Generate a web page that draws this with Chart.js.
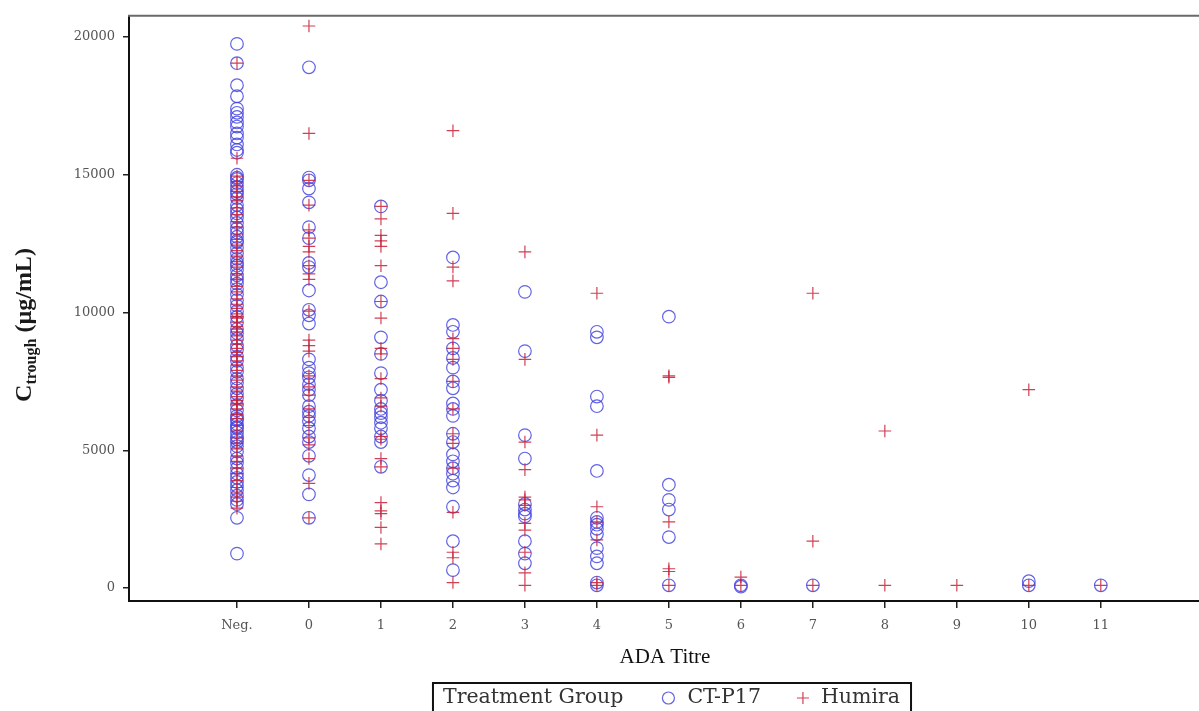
<!DOCTYPE html>
<html>
<head>
<meta charset="utf-8">
<script src="https://cdn.jsdelivr.net/npm/chart.js@4.4.1/dist/chart.umd.min.js"></script>
<style>
  body { margin: 0; background: #fff; }
  canvas { display: block; }
</style>
</head>
<body>
<canvas id="chart-0" width="1199" height="711"></canvas>
<script>
// ADA titre categories (Neg. plotted at -1)
var titreX = [-1, 0, 1, 2, 3, 4, 5, 6, 7, 8, 9, 10, 11];
var titreLabels = ["Neg.", "0", "1", "2", "3", "4", "5", "6", "7", "8", "9", "10", "11"];
var yTicks = [0, 5000, 10000, 15000, 20000];

/* CT-P17 Ctrough values per titre */
var ctNeg = [19750, 19050, 18250, 17850, 17400, 17250, 17100, 16900, 16750, 16500, 16350, 16100, 15900, 15800,
  15000, 14900, 14850, 14700, 14550, 14400, 14300, 14150, 13900, 13750, 13600, 13450, 13250, 13050, 12900, 12750,
  12600, 12550, 12350, 12150, 11950, 11800, 11700, 11550, 11350, 11200, 11050, 10850, 10650, 10450, 10250, 10050,
  9850, 9650, 9400, 9250, 9050, 8800, 8650, 8400, 8250, 8000, 7850, 7600, 7450, 7250, 7050, 6900, 6650, 6450,
  6250, 6150, 6100, 5950, 5850, 5800, 5650, 5500, 5400, 5300, 5150, 4950, 4700, 4550, 4350, 4150, 4000, 3850,
  3700, 3550, 3350, 3200, 3050, 2550, 1250];
var ct0 = [18900, 14900, 14800, 14500, 14000, 13100, 12700, 11800, 11650, 10800, 10100, 9900, 9600, 8300, 8000,
  7800, 7650, 7400, 7200, 7000, 6600, 6400, 6250, 6050, 5800, 5500, 5300, 4800, 4100, 3400, 2550];
var ct1 = [13850, 11100, 10400, 9100, 8500, 7800, 7200, 6800, 6500, 6350, 6200, 6000, 5800, 5500, 5300, 4400];
var ct2 = [12000, 9550, 9300, 8700, 8350, 8000, 7500, 7250, 6700, 6500, 6250, 5600, 5300, 4850, 4600, 4350, 4150,
  3900, 3650, 2950, 1700, 650];
var ct3 = [10750, 8600, 5550, 4700, 3050, 2850, 2700, 2600, 1700, 1250, 900];
var ct4 = [9300, 9100, 6950, 6600, 4250, 2550, 2400, 2300, 2150, 1950, 1450, 1150, 900, 200, 100];
var ct5 = [9850, 3750, 3200, 2850, 1850, 100];
var ct6 = [100, 50];
var ct7 = [100];
var ct8 = [];
var ct9 = [];
var ct10 = [250, 100];
var ct11 = [100];

/* Humira Ctrough values per titre */
var huNeg = [19050, 15600, 14950, 14750, 14600, 14400, 14200, 14050, 13800, 13550, 13300, 13100, 12850, 12650,
  12450, 12250, 12050, 11850, 11650, 11400, 11200, 10950, 10750, 10500, 10300, 10150, 9950, 9850, 9800, 9650,
  9500, 9400, 9300, 9150, 9000, 8850, 8700, 8550, 8400, 8250, 8100, 7900, 7700, 7550, 7300, 7150, 6950, 6800,
  6700, 6650, 6500, 6300, 6150, 5900, 5700, 5450, 5250, 5050, 4800, 4600, 4350, 4150, 3900, 3650, 3450, 3300,
  3150, 2900];
var hu0 = [20400, 16500, 14800, 13900, 13000, 12700, 12400, 12200, 11700, 11400, 11200, 10050, 9000, 8800, 8600,
  7700, 7300, 7000, 6500, 6200, 5900, 5450, 5200, 4700, 3800, 2550];
var hu1 = [13850, 13400, 12800, 12600, 12400, 11700, 10400, 9800, 8700, 8500, 7600, 6900, 6600, 5500, 5400, 4700,
  4400, 3100, 2800, 2700, 2200, 1600];
var hu2 = [16600, 13600, 11650, 11150, 9050, 8700, 8300, 7500, 6500, 5600, 5250, 4350, 2750, 1300, 1100, 200];
var hu3 = [12200, 8300, 5300, 4300, 3300, 3200, 3000, 2350, 2100, 1300, 550, 100];
var hu4 = [10700, 5550, 2950, 2400, 1750, 200, 100];
var hu5 = [7700, 7650, 2400, 700, 600, 100];
var hu6 = [400, 100];
var hu7 = [10700, 1700, 100];
var hu8 = [5700, 100];
var hu9 = [100];
var hu10 = [7200, 100];
var hu11 = [100];

var ctCols = [ctNeg, ct0, ct1, ct2, ct3, ct4, ct5, ct6, ct7, ct8, ct9, ct10, ct11];
var huCols = [huNeg, hu0, hu1, hu2, hu3, hu4, hu5, hu6, hu7, hu8, hu9, hu10, hu11];

function toPoints(cols) {
    var pts = [];
    for (var i = 0; i < cols.length; i++) {
        for (var j = 0; j < cols[i].length; j++) {
            pts.push({ x: titreX[i], y: cols[i][j] });
        }
    }
    return pts;
}

var blue = "rgba(70,70,225,0.85)";
var red = "rgba(200,30,55,0.85)";
var tickFont = { family: "'DejaVu Serif'", size: 13 };

// draws top frame line, axis titles and the boxed legend
var extras = {
    id: "extras",
    afterDraw: function (chart) {
        var ctx = chart.ctx;
        var area = chart.chartArea;
        ctx.save();

        ctx.strokeStyle = "#6a6a6a";
        ctx.lineWidth = 2;
        ctx.beginPath();
        ctx.moveTo(area.left - 1, area.top);
        ctx.lineTo(chart.width, area.top);
        ctx.stroke();
        // bottom axis runs on to the edge
        ctx.strokeStyle = "#111";
        ctx.beginPath();
        ctx.moveTo(area.right - 1, area.bottom);
        ctx.lineTo(chart.width, area.bottom);
        ctx.stroke();

        // x title
        ctx.fillStyle = "#111";
        ctx.font = "21px 'Liberation Serif'";
        ctx.textAlign = "center";
        ctx.textBaseline = "middle";
        ctx.fillText("ADA Titre", 665, 657);

        // y title with subscript
        var big = "bold 24px 'Liberation Serif'";
        var small = "bold 16px 'Liberation Serif'";
        ctx.font = big;
        var wC = ctx.measureText("C").width;
        var wU = ctx.measureText(" (\u00b5g/mL)").width;
        ctx.font = small;
        var wT = ctx.measureText("trough").width;
        var total = wC + wT + wU;
        ctx.translate(24, 325);
        ctx.rotate(-Math.PI / 2);
        ctx.textAlign = "left";
        ctx.textBaseline = "alphabetic";
        ctx.fillStyle = "#1a1a1a";
        var sx = -total / 2;
        ctx.font = big;
        ctx.fillText("C", sx, 7);
        ctx.font = small;
        ctx.fillText("trough", sx + wC, 12);
        ctx.font = big;
        ctx.fillText(" (\u00b5g/mL)", sx + wC + wT, 7);
        ctx.setTransform(1, 0, 0, 1, 0, 0);

        // legend
        ctx.font = "20.5px 'DejaVu Serif'";
        ctx.textAlign = "left";
        ctx.textBaseline = "middle";
        var t1 = "Treatment Group", t2 = "CT-P17", t3 = "Humira";
        var w1 = ctx.measureText(t1).width;
        var w2 = ctx.measureText(t2).width;
        var w3 = ctx.measureText(t3).width;
        var boxW = 10 + w1 + 45 + 19 + w2 + 42 + 18 + w3 + 11;
        var bx = 672 - boxW / 2;
        var by = 683;
        var cy = 698;
        ctx.strokeStyle = "#111";
        ctx.lineWidth = 2;
        ctx.strokeRect(bx, by, boxW, 40);
        ctx.fillStyle = "#333";
        var x = bx + 10;
        ctx.fillText(t1, x, cy);
        x += w1 + 45;
        ctx.strokeStyle = blue;
        ctx.lineWidth = 1.2;
        ctx.beginPath();
        ctx.arc(x, cy, 6, 0, Math.PI * 2);
        ctx.stroke();
        x += 19;
        ctx.fillText(t2, x, cy);
        x += w2 + 42;
        ctx.strokeStyle = red;
        ctx.beginPath();
        ctx.moveTo(x - 6, cy); ctx.lineTo(x + 6, cy);
        ctx.moveTo(x, cy - 6); ctx.lineTo(x, cy + 6);
        ctx.stroke();
        x += 18;
        ctx.fillText(t3, x, cy);

        ctx.restore();
    }
};

var ctx0 = document.getElementById("chart-0");

var myChart = new Chart(ctx0, {
    type: "scatter",
    data: {
        datasets: [{
            label: "CT-P17",
            data: toPoints(ctCols),
            pointStyle: "circle",
            pointRadius: 6.3,
            pointHoverRadius: 6.3,
            borderColor: blue,
            backgroundColor: "rgba(0,0,0,0)",
            borderWidth: 1.2,
            order: 1
        }, {
            label: "Humira",
            data: toPoints(huCols),
            pointStyle: "cross",
            pointRadius: 6.3,
            pointHoverRadius: 6.3,
            borderColor: red,
            backgroundColor: red,
            borderWidth: 1.2,
            order: 0
        }]
    },
    options: {
        responsive: false,
        animation: false,
        layout: { padding: { left: 0, top: 12, right: 0, bottom: 0 } },
        plugins: {
            legend: { display: false },
            tooltip: { enabled: false }
        },
        scales: {
            x: {
                type: "linear",
                min: -2.5,
                max: 12.26,
                afterBuildTicks: function (scale) {
                    scale.ticks = titreX.map(function (v) { return { value: v }; });
                },
                afterFit: function (scale) { scale.height = 110; },
                ticks: {
                    autoSkip: false,
                    maxRotation: 0,
                    padding: 10,
                    color: "#555",
                    font: tickFont,
                    callback: function (v) { return titreLabels[titreX.indexOf(v)]; }
                },
                grid: { drawOnChartArea: false, drawTicks: true, tickLength: 7, color: "#222", lineWidth: 1.5 },
                border: { display: true, color: "#111", width: 2 }
            },
            y: {
                min: -470,
                max: 20770,
                afterBuildTicks: function (scale) {
                    scale.ticks = yTicks.map(function (v) { return { value: v }; });
                },
                afterFit: function (scale) { scale.width = 129; },
                ticks: {
                    padding: 8,
                    color: "#555",
                    font: tickFont,
                    callback: function (v) { return String(v); }
                },
                grid: { drawOnChartArea: false, drawTicks: true, tickLength: 6, color: "#222", lineWidth: 1.5 },
                border: { display: true, color: "#111", width: 2 }
            }
        }
    },
    plugins: [extras]
});
</script>
</body>
</html>
